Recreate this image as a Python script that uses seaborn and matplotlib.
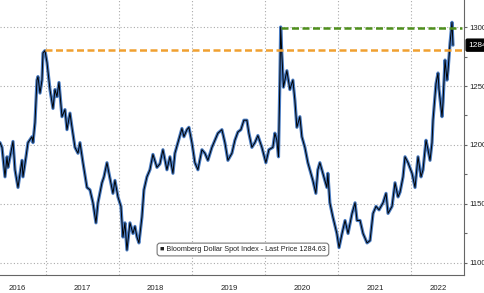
import matplotlib
matplotlib.use("Agg")
import matplotlib.pyplot as plt
import matplotlib.dates as mdates
import matplotlib.transforms as mtransforms
import matplotlib.font_manager as fm
from matplotlib.ticker import MultipleLocator, NullFormatter, FixedLocator
import pandas as pd
import seaborn as sns

# ---------------- data ----------------
dates = [
    "2016-05-16", "2016-05-26", "2016-06-10", "2016-06-20", "2016-06-25", "2016-07-20",
    "2016-07-30", "2016-08-14", "2016-09-03", "2016-09-08", "2016-09-23", "2016-10-03",
    "2016-10-23", "2016-10-28", "2016-11-07", "2016-11-17", "2016-11-22", "2016-12-02",
    "2016-12-12", "2016-12-17", "2016-12-27",
    "2017-01-06", "2017-01-21", "2017-02-05", "2017-02-15", "2017-02-25", "2017-03-07",
    "2017-03-22", "2017-04-06", "2017-04-16", "2017-05-01", "2017-05-11", "2017-05-26",
    "2017-06-10", "2017-06-20", "2017-07-05", "2017-07-25", "2017-08-09", "2017-08-24",
    "2017-09-08", "2017-09-18", "2017-10-08", "2017-10-18", "2017-11-02", "2017-11-12",
    "2017-12-02", "2017-12-12", "2017-12-27",
    "2018-01-11", "2018-01-21", "2018-01-31", "2018-02-10", "2018-02-25", "2018-03-12",
    "2018-03-22", "2018-04-01", "2018-04-11", "2018-04-26", "2018-05-06", "2018-05-21",
    "2018-06-05", "2018-06-20", "2018-07-10", "2018-07-25", "2018-08-09", "2018-08-29",
    "2018-09-13", "2018-09-28", "2018-10-08", "2018-10-23", "2018-11-12", "2018-11-22",
    "2018-12-07", "2018-12-17",
    "2019-01-01", "2019-01-16", "2019-01-31", "2019-02-20", "2019-03-07", "2019-03-22",
    "2019-04-11", "2019-04-26", "2019-05-11", "2019-05-31", "2019-06-15", "2019-06-30",
    "2019-07-20", "2019-08-04", "2019-08-19", "2019-09-03", "2019-09-18", "2019-10-03",
    "2019-10-13", "2019-10-28", "2019-11-12", "2019-11-27", "2019-12-17",
    "2020-01-06", "2020-01-21", "2020-02-10", "2020-02-20", "2020-03-01", "2020-03-09",
    "2020-03-16", "2020-03-20", "2020-03-25", "2020-04-03", "2020-04-20", "2020-05-05",
    "2020-05-20", "2020-05-30", "2020-06-09", "2020-06-24", "2020-07-04", "2020-07-19",
    "2020-08-03", "2020-08-18", "2020-08-28", "2020-09-12", "2020-09-22", "2020-10-02",
    "2020-10-17", "2020-11-06", "2020-11-11", "2020-11-21", "2020-12-06", "2020-12-26",
    "2021-01-06", "2021-01-21", "2021-02-05", "2021-02-20", "2021-03-12", "2021-03-27",
    "2021-04-06", "2021-04-21", "2021-05-06", "2021-05-26", "2021-06-10", "2021-06-25",
    "2021-07-10", "2021-07-25", "2021-08-14", "2021-08-29", "2021-09-08", "2021-09-28",
    "2021-10-13", "2021-10-28", "2021-11-07", "2021-11-22", "2021-12-02", "2021-12-17",
    "2022-01-06", "2022-01-21", "2022-02-05", "2022-02-20", "2022-03-02", "2022-03-17",
    "2022-03-27", "2022-04-06", "2022-04-16", "2022-04-21", "2022-05-06", "2022-05-16",
    "2022-05-21", "2022-06-05", "2022-06-10", "2022-06-20", "2022-06-30", "2022-07-05",
    "2022-07-15", "2022-07-25", "2022-07-30",
]
values = [
    1202, 1198, 1173, 1190, 1181, 1203,
    1179, 1164, 1187, 1173, 1190, 1202,
    1207, 1202, 1219, 1255, 1258, 1244,
    1255, 1278, 1280,
    1270, 1247, 1231, 1247, 1241, 1253,
    1224, 1230, 1213, 1227, 1215, 1198,
    1193, 1202, 1185, 1164, 1162, 1151,
    1134, 1151, 1168, 1173, 1185, 1176,
    1159, 1170, 1156,
    1148, 1122, 1134, 1111, 1134, 1125,
    1131, 1122, 1117, 1139, 1162, 1173,
    1179, 1192, 1181, 1184, 1196, 1179,
    1190, 1176, 1193, 1202, 1214, 1207,
    1213, 1215,
    1202, 1185, 1179, 1196, 1193, 1187,
    1198, 1204, 1210, 1213, 1202, 1187,
    1193, 1204, 1211, 1213, 1221, 1221,
    1210, 1198, 1202, 1208, 1198,
    1185, 1196, 1198, 1210, 1204, 1190,
    1255, 1300, 1280, 1249, 1263, 1247,
    1255, 1238, 1215, 1224, 1207, 1198,
    1185, 1176, 1170, 1159, 1179, 1185,
    1176, 1164, 1176, 1151, 1139, 1125,
    1113, 1125, 1136, 1125, 1142, 1151,
    1136, 1136, 1125, 1117, 1119, 1142,
    1148, 1145, 1151, 1159, 1142, 1148,
    1168, 1156, 1160, 1173, 1190, 1185,
    1176, 1164, 1190, 1173, 1179, 1204,
    1196, 1187, 1202, 1221, 1252, 1261,
    1247, 1224, 1236, 1272, 1255, 1263,
    1286, 1304, 1284.63,
]
year_labels = ["2016", "2017", "2018", "2019", "2020", "2021", "2022"]
year_label_dates = ["2016-08-08", "2017-06-30", "2018-07-02", "2019-07-05",
                    "2020-07-05", "2021-07-05", "2022-05-16"]
y_ticks = [1100, 1150, 1200, 1250, 1300]
peak_2016_level = 1280.5
peak_2016_date = "2016-12-27"
peak_2020_level = 1299.5
peak_2020_date = "2020-03-20"
level_lines_end = "2022-09-13"
last_price = 1284.63
series_name = "Bloomberg Dollar Spot Index - Last Price"

# ---------------- style ----------------
sns.set_style("white")
available = {f.name for f in fm.fontManager.ttflist}
narrow = next((n for n in ["Liberation Sans Narrow", "Arial Narrow", "Nimbus Sans Narrow"]
               if n in available), None)
if narrow:
    plt.rcParams["font.family"] = [narrow, "DejaVu Sans"]
    tick_fs, legend_fs, box_fs = 6.5, 6.0, 6.5
else:
    plt.rcParams["font.family"] = ["Liberation Sans", "DejaVu Sans"]
    tick_fs, legend_fs, box_fs = 5.6, 5.2, 6.0

df = pd.DataFrame({"date": pd.to_datetime(dates), "value": values})

W, H = 485, 293
fig = plt.figure(figsize=(W / 100, H / 100), dpi=100)
ax = fig.add_axes([0, 18 / H, 464 / W, 275 / H])

sns.lineplot(data=df, x="date", y="value", ax=ax, color="#4a7cc2", lw=2.3)
sns.lineplot(data=df, x="date", y="value", ax=ax, color="black", lw=0.7)

ax.hlines(peak_2016_level, pd.Timestamp(peak_2016_date), pd.Timestamp(level_lines_end),
          colors="#f0a030", linestyles=(0, (2.8, 1.4)), lw=1.8, zorder=4)
ax.hlines(peak_2020_level, pd.Timestamp(peak_2020_date), pd.Timestamp(level_lines_end),
          colors="#4e8f1c", linestyles=(0, (2.8, 1.4)), lw=1.8, zorder=4)

ax.set_xlim(pd.Timestamp("2016-05-16"), pd.Timestamp("2022-09-23"))
ax.set_ylim(1089.8, 1322.9)

# axes / ticks
ax.yaxis.tick_right()
ax.yaxis.set_major_locator(FixedLocator(y_ticks))
ax.yaxis.set_minor_locator(MultipleLocator(25))
ax.xaxis.set_major_locator(mdates.YearLocator())
ax.xaxis.set_minor_locator(mdates.MonthLocator(bymonth=[4, 7, 10]))
ax.xaxis.set_major_formatter(NullFormatter())
ax.xaxis.set_minor_formatter(NullFormatter())
ax.set_xlabel("")
ax.set_ylabel("")

ax.tick_params(axis="x", which="major", length=18, width=0.8, color="#666666", direction="out")
ax.tick_params(axis="x", which="minor", length=4, width=0.8, color="#666666", direction="out")
ax.tick_params(axis="y", which="major", length=2.5, width=0.8, color="#666666",
               labelsize=tick_fs, pad=1.0, labelcolor="#222222", direction="out")
ax.tick_params(axis="y", which="minor", length=2.5, width=0.8, color="#666666", direction="out")

ax.grid(True, which="major", linestyle=(0, (1, 2)), color="#aaaaaa", lw=0.8)

for s in ["left", "top"]:
    ax.spines[s].set_visible(False)
for s in ["right", "bottom"]:
    ax.spines[s].set_color("#666666")
    ax.spines[s].set_linewidth(0.8)

# year labels
trans_x = mtransforms.blended_transform_factory(ax.transData, ax.transAxes)
for lbl, d in zip(year_labels, year_label_dates):
    ax.text(pd.Timestamp(d), -13 / 275, lbl, transform=trans_x, ha="center", va="center",
            fontsize=tick_fs, color="#222222", clip_on=False)

# legend box
ax.text(160 / 464, (275 - 249.5) / 275, f"\u25a0 {series_name} {last_price:.2f}",
        transform=ax.transAxes, ha="left", va="center", fontsize=legend_fs, color="#222222",
        bbox=dict(boxstyle="round,pad=0.4", fc="white", ec="#777777", lw=0.8), zorder=6)

# last price marker on the right axis
trans_y = mtransforms.blended_transform_factory(ax.transAxes, ax.transData)
ax.text(1.01, last_price, f"{last_price:.2f}", transform=trans_y, ha="left", va="center",
        fontsize=box_fs, color="white", clip_on=False,
        bbox=dict(boxstyle="round,pad=0.3,rounding_size=0.15", fc="black", ec="black"))

fig.savefig("out.png", dpi=100)
